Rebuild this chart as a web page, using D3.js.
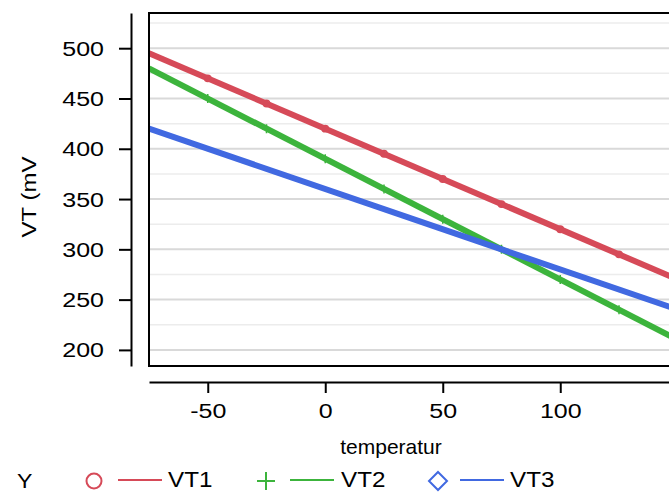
<!DOCTYPE html>
<html>
<head>
<meta charset="utf-8">
<script src="https://cdn.jsdelivr.net/npm/d3@7"></script>
<style>
  body { margin: 0; background: #fff; }
  svg { display: block; font-family: "Liberation Sans", Arial, sans-serif; }
</style>
</head>
<body>
<div id="chart"></div>
<script>
// data
const temps = [-50, -25, 0, 25, 50, 75, 100, 125];
const vt1 = [470, 445, 420, 395, 370, 345, 320, 295];
const vt2 = [450, 420, 390, 360, 330, 300, 270, 240];
// fitted lines, end points at the edges of the x range
const fitTemps = [-75, 150];
const vt1Fit = [495, 270];
const vt2Fit = [480, 210];
const vt3Fit = [420, 240];
const seriesNames = ["VT1", "VT2", "VT3"];
const seriesColors = ["#d64a58", "#3cb43c", "#4169e1"];
const xMajor = [-50, 0, 50, 100];
const xMinor = [-75, -25, 25, 75, 125];
const yMajor = [200, 250, 300, 350, 400, 450, 500];
const yMinor = [225, 275, 325, 375, 425, 475, 525];

const width = 669, height = 493;
const plot = { left: 149, top: 13, bottom: 366 };

const svg = d3.select("#chart").append("svg")
    .attr("width", width)
    .attr("height", height);

const x = d3.scaleLinear().domain([-75, 150]).range([149, 677.75]);
const y = d3.scaleLinear().domain([184, 535]).range([plot.bottom, plot.top]);

// stretched text, glyphs look wider in the reference
function stretchText(sel, sx) {
    sel.each(function() {
        const t = d3.select(this);
        const tx = +t.attr("x") || 0, ty = +t.attr("y") || 0;
        t.attr("x", 0).attr("y", 0)
         .attr("transform", `translate(${tx},${ty}) scale(${sx},1)`);
    });
}

svg.append("clipPath").attr("id", "clip")
  .append("rect")
    .attr("x", plot.left).attr("y", plot.top)
    .attr("width", width - plot.left).attr("height", plot.bottom - plot.top);

const inner = svg.append("g").attr("clip-path", "url(#clip)");

// grid lines
inner.selectAll("line.minor")
  .data(yMinor)
  .enter().append("line")
    .attr("class", "minor")
    .attr("x1", plot.left).attr("x2", width)
    .attr("y1", d => y(d)).attr("y2", d => y(d))
    .attr("stroke", "#ececec").attr("stroke-width", 1.5);
inner.selectAll("line.major")
  .data(yMajor)
  .enter().append("line")
    .attr("class", "major")
    .attr("x1", plot.left).attr("x2", width)
    .attr("y1", d => y(d)).attr("y2", d => y(d))
    .attr("stroke", "#d9d9d9").attr("stroke-width", 2);

// markers (under the lines)
inner.selectAll("circle.m")
  .data(temps.map((t, i) => [t, vt1[i]]))
  .enter().append("circle")
    .attr("class", "m")
    .attr("cx", d => x(d[0])).attr("cy", d => y(d[1]))
    .attr("r", 3.2)
    .attr("fill", "none").attr("stroke", seriesColors[0]).attr("stroke-width", 1.5);
inner.selectAll("path.plus")
  .data(temps.map((t, i) => [t, vt2[i]]))
  .enter().append("path")
    .attr("class", "plus")
    .attr("d", d => `M${x(d[0]) - 4.5},${y(d[1])}h9M${x(d[0])},${y(d[1]) - 4.5}v9`)
    .attr("stroke", seriesColors[1]).attr("stroke-width", 1.5);

// fitted lines
const line = d3.line().x(d => x(d[0])).y(d => y(d[1]));
[vt1Fit, vt2Fit, vt3Fit].forEach((fit, i) => {
    inner.append("path")
        .datum(fitTemps.map((t, j) => [t, fit[j]]))
        .attr("d", line)
        .attr("fill", "none")
        .attr("stroke", seriesColors[i])
        .attr("stroke-width", 6);
});

// plot box
svg.append("rect")
    .attr("x", plot.left).attr("y", plot.top)
    .attr("width", width + 20 - plot.left).attr("height", plot.bottom - plot.top)
    .attr("fill", "none").attr("stroke", "#000").attr("stroke-width", 2);

// y axis
const yAxisG = svg.append("g").attr("transform", "translate(131,0)");
yAxisG.call(d3.axisLeft(y).tickValues(yMinor.filter(v => v < 535)).tickSize(6).tickSizeOuter(0).tickFormat(""));
yAxisG.call(d3.axisLeft(y).tickValues(yMajor).tickSize(12).tickSizeOuter(0));
yAxisG.selectAll("path, line").attr("stroke", "#000").attr("stroke-width", 2);
yAxisG.selectAll("text")
    .attr("font-size", 20)
    .attr("fill", "#000")
    .attr("font-family", "Liberation Sans, Arial, sans-serif")
    .attr("x", 0).attr("y", 0).attr("dy", "0.35em")
    .attr("transform", "translate(-27,0) scale(1.25,1)");

// x axis
const xAxisG = svg.append("g").attr("transform", "translate(0,382)");
xAxisG.call(d3.axisBottom(x).tickValues(xMinor).tickSize(6).tickSizeOuter(0).tickFormat(""));
xAxisG.call(d3.axisBottom(x).tickValues(xMajor).tickSize(11).tickSizeOuter(0).tickFormat(d3.format("d")));
xAxisG.selectAll("path, line").attr("stroke", "#000").attr("stroke-width", 2);
xAxisG.selectAll("text")
    .attr("font-size", 20)
    .attr("fill", "#000")
    .attr("font-family", "Liberation Sans, Arial, sans-serif")
    .text(d => d < 0 ? "-" + Math.abs(d) : d)
    .attr("dy", null)
    .attr("y", 0)
    .attr("transform", "translate(0,36) scale(1.25,1)");

// axis titles
svg.append("text")
    .attr("x", 391).attr("y", 454)
    .attr("text-anchor", "middle")
    .attr("font-size", 20)
    .text("temperatur")
    .call(stretchText, 1.05);

svg.append("text")
    .attr("transform", "translate(36,197) rotate(-90) scale(1.2,1)")
    .attr("text-anchor", "middle")
    .attr("font-size", 20)
    .text("VT (mV");

// legend
const legY = 481;
svg.append("text")
    .attr("x", 17).attr("y", 488)
    .attr("font-size", 21)
    .text("Y")
    .call(stretchText, 1.1);

const legItems = [
    { sym: "circle", cx: 94, lx: 118, tx: 168 },
    { sym: "plus", cx: 266, lx: 290, tx: 341 },
    { sym: "diamond", cx: 438, lx: 460, tx: 510 }
];
legItems.forEach((it, i) => {
    const g = svg.append("g");
    const c = seriesColors[i];
    if (it.sym === "circle") {
        g.append("circle").attr("cx", it.cx).attr("cy", legY).attr("r", 7.5)
            .attr("fill", "none").attr("stroke", c).attr("stroke-width", 2);
    } else if (it.sym === "plus") {
        g.append("path").attr("d", `M${it.cx - 9},${legY}h18M${it.cx},${legY - 9}v18`)
            .attr("stroke", c).attr("stroke-width", 2);
    } else {
        g.append("path").attr("d", `M${it.cx},${legY - 9}l9,9l-9,9l-9,-9z`)
            .attr("fill", "none").attr("stroke", c).attr("stroke-width", 2);
    }
    g.append("line").attr("x1", it.lx).attr("x2", it.lx + 44)
        .attr("y1", legY - 1).attr("y2", legY - 1)
        .attr("stroke", c).attr("stroke-width", 2);
    g.append("text").attr("x", it.tx).attr("y", 487)
        .attr("font-size", 22)
        .text(seriesNames[i])
        .call(stretchText, 1.1);
});
</script>
</body>
</html>
